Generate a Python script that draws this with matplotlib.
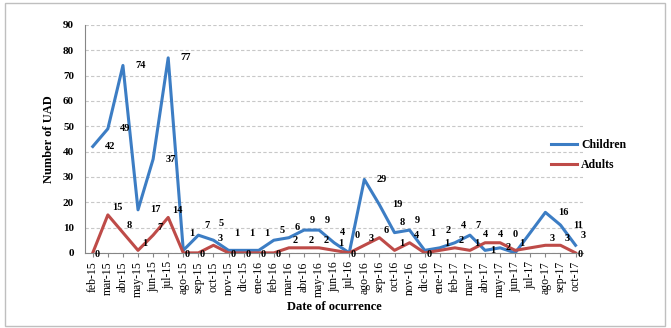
import matplotlib.pyplot as plt
import numpy as np
from matplotlib.patches import Rectangle

plt.rcParams['font.family'] = ['Liberation Serif', 'DejaVu Serif']

# months on the x axis
months = ['feb-15', 'mar-15', 'abr-15', 'may-15', 'jun-15', 'jul-15', 'ago-15',
          'sep-15', 'oct-15', 'nov-15', 'dic-15', 'ene-16', 'feb-16', 'mar-16',
          'abr-16', 'may-16', 'jun-16', 'jul-16', 'ago-16', 'sep-16', 'oct-16',
          'nov-16', 'dic-16', 'ene-17', 'feb-17', 'mar-17', 'abr-17', 'may-17',
          'jun-17', 'jul-17', 'ago-17', 'sep-17', 'oct-17']

# number of UAD per month (None = no value that month)
children = [42, 49, 74, 17, 37, 77, 1, 7, 5, 1, 1, 1, 5, 6, 9, 9, 4, 0, 29, 19,
            8, 9, 1, 2, 4, 7, 1, 2, 0, None, 16, 11, 3]
adults = [0, 15, 8, 1, 7, 14, 0, 0, 3, 0, 0, 0, 0, 2, 2, 2, 1, 0, 3, 6,
          1, 4, 0, 1, 2, 1, 4, 4, 1, None, 3, 3, 0]

blue = '#3C7DC4'
red = '#BE4B48'

# hand-placed labels in the crowded spring of 2017: (dx, dy, ha, va)
child_pos = {'abr-17': (4, 0, 'left', 'center'), 'may-17': (4, 0, 'left', 'center'),
             'jun-17': (0, 10, 'center', 'bottom')}
adult_pos = {'abr-17': (0, 3, 'center', 'bottom'), 'may-17': (0, 3, 'center', 'bottom')}

fig = plt.figure(figsize=(6.71, 3.28), dpi=100)
ax = fig.add_axes([0.127, 0.229, 0.742, 0.695])

# outer chart frame
fig.patches.append(Rectangle((0.007, 0.006), 0.984, 0.985, transform=fig.transFigure,
                             fill=False, edgecolor='#BFBFBF', lw=1.0))


def points(vals):
    xs = [i for i, v in enumerate(vals) if v is not None]
    ys = [v for v in vals if v is not None]
    return xs, ys


lab = dict(fontsize=7.5, fontweight='bold', textcoords='offset points')

xs, ys = points(children)
ax.plot(xs, ys, color=blue, lw=2.2, label='Children')
for xi, yi in zip(xs, ys):
    if months[xi] in child_pos:
        dx, dy, ha, va = child_pos[months[xi]]
    elif yi >= 10:
        dx, dy, ha, va = 9, 0, 'left', 'center'
    else:
        dx, dy, ha, va = 4, (9 if abs(yi - adults[xi]) <= 2 else 4), 'left', 'bottom'
    ax.annotate(str(yi), (xi, yi), xytext=(dx, dy), ha=ha, va=va, **lab)

xs, ys = points(adults)
ax.plot(xs, ys, color=red, lw=2.2, label='Adults')
for xi, yi in zip(xs, ys):
    if months[xi] in adult_pos:
        dx, dy, ha, va = adult_pos[months[xi]]
    elif yi == 0:
        dx, dy, ha, va = 3, -1, 'center', 'center'
    else:
        dx, dy, ha, va = 3, 2, 'left', 'bottom'
    ax.annotate(str(yi), (xi, yi), xytext=(dx, dy), ha=ha, va=va, **lab)

ax.set_xlim(-0.5, len(months) - 0.5)
ax.set_ylim(0, 90)
ax.set_yticks(range(0, 91, 10))
ax.set_xticks(np.arange(len(months)))
ax.set_xticklabels(months, rotation=90, fontsize=8.5)
ax.tick_params(axis='y', labelsize=8, length=0, pad=8)
ax.tick_params(axis='x', length=3, color='#868686', pad=3)
for t in ax.get_yticklabels():
    t.set_fontweight('bold')

ax.grid(axis='y', color='#C8C8C8', ls=(0, (3, 2)), lw=0.8)
ax.set_axisbelow(True)
for s in ['top', 'right']:
    ax.spines[s].set_visible(False)
ax.spines['left'].set_color('#868686')
ax.spines['bottom'].set_color('#868686')

ax.set_ylabel('Number of UAD', fontsize=9, fontweight='bold', labelpad=6)
ax.set_xlabel('Date of ocurrence', fontsize=9, fontweight='bold', labelpad=3)

ax.legend(loc='center left', bbox_to_anchor=(0.915, 0.43), frameon=False,
          prop={'weight': 'bold', 'size': 8.5}, handlelength=2.2,
          labelspacing=0.7, handletextpad=0.3)

fig.savefig('out.png', dpi=100)
